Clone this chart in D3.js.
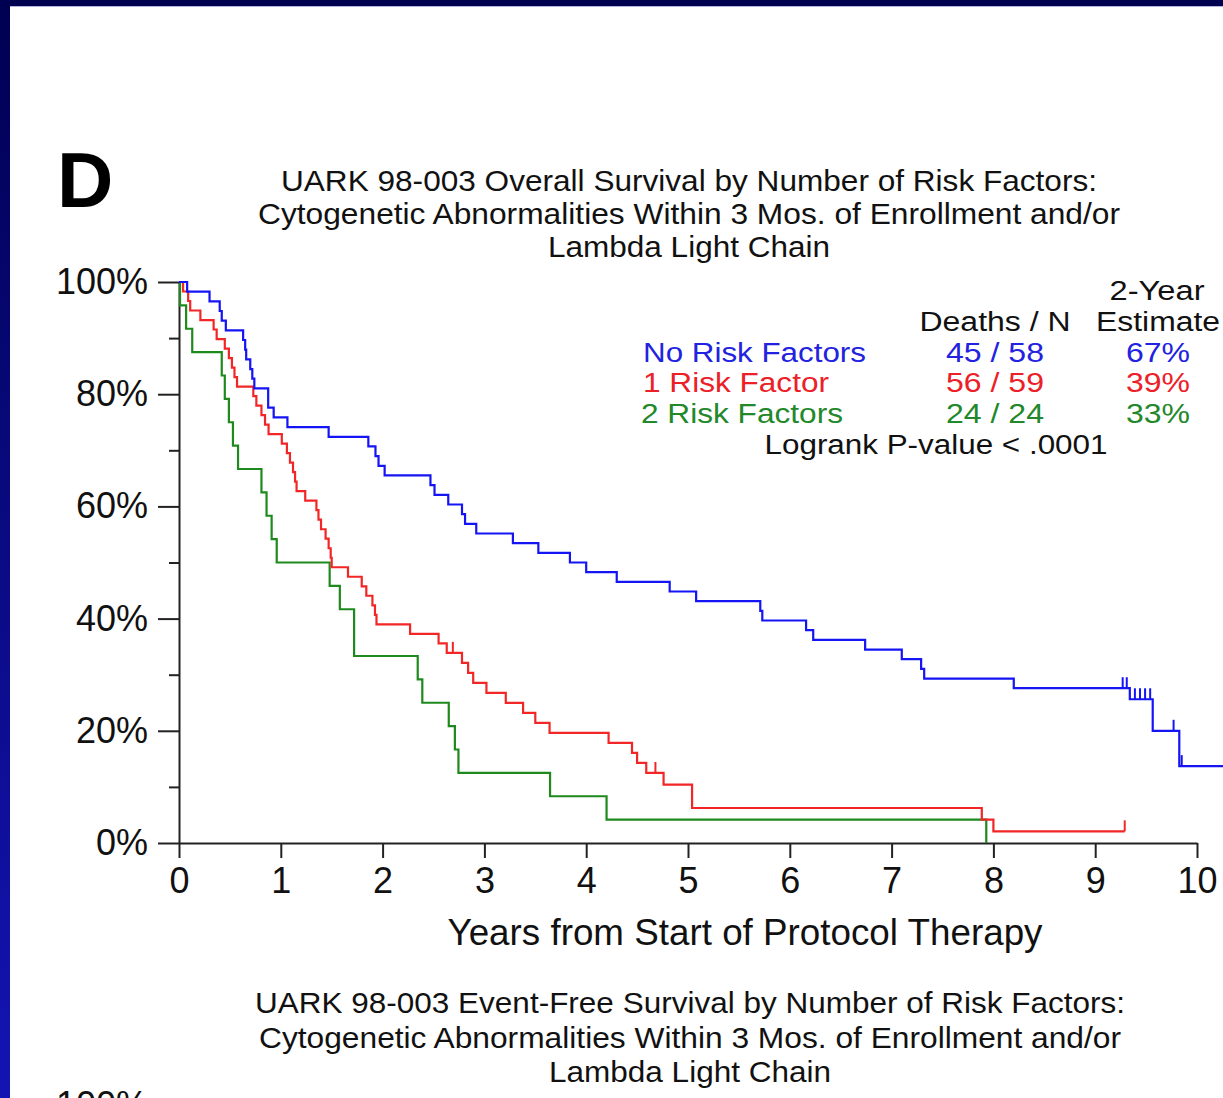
<!DOCTYPE html>
<html>
<head>
<meta charset="utf-8">
<script src="https://cdn.jsdelivr.net/npm/d3@7"></script>
<style>
  html, body { margin: 0; padding: 0; background: #fff; overflow: hidden; }
  svg { display: block; }
  text { font-family: "Liberation Sans", Arial, Helvetica, sans-serif; }
</style>
</head>
<body>
<svg id="chart" width="1223" height="1098"></svg>
<script>
// ---- Axis ticks ----
const yearTicks = [0, 1, 2, 3, 4, 5, 6, 7, 8, 9, 10];
const pctTicks = [0, 0.2, 0.4, 0.6, 0.8, 1];
const minorPctTicks = [0.1, 0.3, 0.5, 0.7, 0.9];

// ---- Groups (legend table) ----
const groupNames = ["No Risk Factors", "1 Risk Factor", "2 Risk Factors"];
const deathsOverN = ["45 / 58", "56 / 59", "24 / 24"];
const twoYearEstimate = [0.67, 0.39, 0.33];
const logrankText = "Logrank P-value < .0001";

// ---- Kaplan-Meier steps: event times (years) and survival after each step ----
const noRiskTime = [0, 0.08, 0.30, 0.40, 0.42, 0.46, 0.63, 0.65, 0.66, 0.70, 0.72, 0.74, 0.876, 0.93, 1.065,
  1.47, 1.86, 1.93, 1.96, 2.02, 2.47, 2.51, 2.645, 2.78, 2.81, 2.92, 3.28, 3.53, 3.84, 4.00, 4.30, 4.82, 5.08,
  5.71, 5.73, 6.16, 6.23, 6.74, 7.10, 7.29, 7.32, 8.20, 9.34, 9.565, 9.826, 10.4];
const noRiskSurv = [1, 0.9828, 0.9655, 0.9483, 0.9310, 0.9138, 0.8966, 0.8793, 0.8621, 0.8448, 0.8276, 0.8103,
  0.7759, 0.7586, 0.7414, 0.7241, 0.7069, 0.6897, 0.6724, 0.6552, 0.6379, 0.6207, 0.6034, 0.5862, 0.5690,
  0.5517, 0.5345, 0.5172, 0.5000, 0.4828, 0.4655, 0.4483, 0.4310, 0.4138, 0.3966, 0.3793, 0.3621, 0.3448,
  0.3276, 0.3103, 0.2931, 0.2759, 0.2562, 0.2000, 0.1370, 0.1370];
const noRiskCensored = [9.27, 9.31, 9.39, 9.44, 9.49, 9.54, 9.77, 9.85];

const oneRiskTime = [0, 0.04, 0.09, 0.11, 0.21, 0.34, 0.37, 0.45, 0.49, 0.52, 0.545, 0.57, 0.73, 0.76, 0.81,
  0.845, 0.88, 1.01, 1.06, 1.09, 1.12, 1.14, 1.155, 1.24, 1.35, 1.37, 1.395, 1.44, 1.47, 1.49, 1.50, 1.66,
  1.795, 1.84, 1.90, 1.925, 1.94, 2.27, 2.55, 2.63, 2.78, 2.84, 2.89, 3.02, 3.21, 3.38, 3.50, 3.64, 4.22,
  4.45, 4.50, 4.59, 4.76, 5.04, 7.886, 8.00, 9.29];
const oneRiskSurv = [1, 0.9831, 0.9661, 0.9492, 0.9322, 0.9153, 0.8983, 0.8814, 0.8644, 0.8475, 0.8305,
  0.8136, 0.7966, 0.7797, 0.7627, 0.7458, 0.7288, 0.7119, 0.6949, 0.6780, 0.6610, 0.6441, 0.6271, 0.6102,
  0.5932, 0.5763, 0.5593, 0.5424, 0.5254, 0.5085, 0.4915, 0.4746, 0.4576, 0.4407, 0.4237, 0.4068, 0.3898,
  0.3729, 0.3559, 0.3390, 0.3212, 0.3033, 0.2855, 0.2676, 0.2498, 0.2319, 0.2141, 0.1963, 0.1784, 0.1606,
  0.1427, 0.1249, 0.1041, 0.0624, 0.0416, 0.0208, 0.0208];
const oneRiskCensored = [2.69, 4.68, 9.29];

const twoRiskTime = [0, 0.01, 0.07, 0.13, 0.42, 0.45, 0.49, 0.53, 0.58, 0.81, 0.86, 0.91, 0.96, 1.48, 1.58,
  1.72, 2.345, 2.39, 2.65, 2.71, 2.745, 3.645, 4.20, 7.93];
const twoRiskSurv = [1, 0.9583, 0.9167, 0.8750, 0.8333, 0.7917, 0.7500, 0.7083, 0.6667, 0.6250, 0.5833,
  0.5417, 0.5000, 0.4583, 0.4167, 0.3333, 0.2917, 0.2500, 0.2083, 0.1667, 0.1250, 0.0833, 0.0417, 0];
const twoRiskCensored = [];

// ---- Titles ----
const panelLetter = "D";
const osTitle = ["UARK 98-003 Overall Survival by Number of Risk Factors:",
  "Cytogenetic Abnormalities Within 3 Mos. of Enrollment and/or",
  "Lambda Light Chain"];
const efsTitle = ["UARK 98-003 Event-Free Survival by Number of Risk Factors:",
  "Cytogenetic Abnormalities Within 3 Mos. of Enrollment and/or",
  "Lambda Light Chain"];
const xTitle = "Years from Start of Protocol Therapy";

// ---- Drawing ----
const W = 1223, H = 1098;
const svg = d3.select("#chart");
const lineColors = ["#1414f5", "#f22626", "#1e8a1e"];
const textColors = ["#2222e0", "#ec2027", "#22882a"];
const ink = "#111";

// slide frame
const defs = svg.append("defs");
const grad = defs.append("linearGradient").attr("id", "edgeGrad")
  .attr("x1", 0).attr("y1", 0).attr("x2", 0).attr("y2", 1);
grad.append("stop").attr("offset", "0%").attr("stop-color", "#000052");
grad.append("stop").attr("offset", "100%").attr("stop-color", "#1414b4");
svg.append("rect").attr("width", W).attr("height", H).attr("fill", "#fff");
svg.append("rect").attr("x", 0).attr("y", 0).attr("width", W).attr("height", 6).attr("fill", "#000050");
svg.append("rect").attr("x", 0).attr("y", 6).attr("width", W).attr("height", 1).attr("fill", "#b4b4dc");
svg.append("rect").attr("x", 0).attr("y", 0).attr("width", 10).attr("height", H).attr("fill", "url(#edgeGrad)");

function fitText(sel, width) {
  return sel.attr("textLength", width).attr("lengthAdjust", "spacingAndGlyphs");
}

// multi-line text block: one <text>, one <tspan> per line
function textBlock(anchor, fontSize, rows) {
  const t = svg.append("text").attr("text-anchor", anchor).attr("font-size", fontSize).attr("fill", ink);
  rows.forEach(r => {
    const s = t.append("tspan").attr("x", r.x).attr("y", r.y).text(r.t);
    if (r.fill) s.attr("fill", r.fill);
    if (r.w) fitText(s, r.w);
  });
  return t;
}

// panel letter
svg.append("text").attr("x", 57).attr("y", 207)
  .attr("font-size", 78).attr("font-weight", "bold").attr("fill", "#000").text(panelLetter);

// title lines
const titleFont = 29.5;
const titleLayout = [{ y: 190.5, w: 816 }, { y: 223.5, w: 862 }, { y: 256.5, w: 282 }];
textBlock("middle", titleFont, osTitle.map((t, i) => ({ t, x: 689, y: titleLayout[i].y, w: titleLayout[i].w })));

// scales
const x = d3.scaleLinear().domain([0, 10]).range([179, 1197]);
const y = d3.scaleLinear().domain([0, 1]).range([843, 282]);

// y axis: major ticks with labels, minor ticks without
const yAxisG = svg.append("g").attr("transform", "translate(179,0)")
  .call(d3.axisLeft(y).tickValues(pctTicks).tickSize(21).tickSizeOuter(0).tickPadding(10)
    .tickFormat(d3.format(".0%")));
const yMinorG = svg.append("g").attr("transform", "translate(179,0)")
  .call(d3.axisLeft(y).tickValues(minorPctTicks).tickSize(10).tickFormat(""));
yMinorG.select(".domain").remove();

// x axis
const xAxisG = svg.append("g").attr("transform", "translate(0,843)")
  .call(d3.axisBottom(x).tickValues(yearTicks).tickSize(15).tickSizeOuter(0).tickPadding(9)
    .tickFormat(d3.format("d")));

[yAxisG, yMinorG, xAxisG].forEach(g => {
  g.selectAll(".domain, .tick line").attr("stroke", "#222").attr("stroke-width", 2);
  g.selectAll("text").attr("font-size", 36).attr("fill", ink).attr("font-family", null);
});

// x axis title
fitText(svg.append("text").attr("x", 745).attr("y", 945).attr("text-anchor", "middle")
  .attr("font-size", 36).attr("fill", ink).text(xTitle), 595);

// survival curves
const stepLine = d3.line().x(d => x(d[0])).y(d => y(d[1])).curve(d3.curveStepAfter);
const curves = [
  { time: noRiskTime, surv: noRiskSurv, cens: noRiskCensored },
  { time: oneRiskTime, surv: oneRiskSurv, cens: oneRiskCensored },
  { time: twoRiskTime, surv: twoRiskSurv, cens: twoRiskCensored }
];
const plotClip = defs.append("clipPath").attr("id", "plotClip");
plotClip.append("rect").attr("x", 170).attr("y", 270).attr("width", W - 170).attr("height", 590);

// draw green first, blue last so blue sits on top
[2, 1, 0].forEach(i => {
  const c = curves[i];
  const pts = c.time.map((t, j) => [t, c.surv[j]]);
  const g = svg.append("g").attr("clip-path", "url(#plotClip)");
  g.append("path").attr("d", stepLine(pts)).attr("fill", "none")
    .attr("stroke", lineColors[i]).attr("stroke-width", 2.2).attr("stroke-linejoin", "miter");
  const survAt = t => {
    const k = d3.bisectRight(c.time, t) - 1;
    return c.surv[Math.max(0, k)];
  };
  g.selectAll("line.cens").data(c.cens).join("line").attr("class", "cens")
    .attr("x1", d => x(d)).attr("x2", d => x(d))
    .attr("y1", d => y(survAt(d))).attr("y2", d => y(survAt(d)) - 11)
    .attr("stroke", lineColors[i]).attr("stroke-width", 2);
});

// legend table, one text block per column
const legendFont = 27;
const rowY = [361.5, 392, 422.5];
const nameW = [223, 186, 202];
textBlock("start", legendFont, groupNames.map((name, i) => ({
  t: name, x: i === 2 ? 641 : 643, y: rowY[i], w: nameW[i], fill: textColors[i]
})));
textBlock("middle", legendFont, [{ t: "Deaths / N", x: 995, y: 331, w: 151 }].concat(
  deathsOverN.map((d, i) => ({ t: d, x: 995, y: rowY[i], w: 98, fill: textColors[i] }))));
textBlock("middle", legendFont, [
  { t: "2-Year", x: 1157, y: 300, w: 95 },
  { t: "Estimate", x: 1158, y: 331, w: 124 }
].concat(twoYearEstimate.map((v, i) => ({
  t: d3.format(".0%")(v), x: 1158, y: rowY[i], w: 64, fill: textColors[i]
}))));
fitText(svg.append("text").attr("x", 936).attr("y", 453.5).attr("text-anchor", "middle")
  .attr("font-size", legendFont).attr("fill", ink).text(logrankText), 343);

// next panel (event-free survival) begins below
const efsLayout = [{ y: 1013, w: 870 }, { y: 1048, w: 862 }, { y: 1082, w: 282 }];
textBlock("middle", titleFont, efsTitle.map((t, i) => ({ t, x: 690, y: efsLayout[i].y, w: efsLayout[i].w })));
const y2 = d3.scaleLinear().domain([0, 1]).range([1666, 1105]);
const y2AxisG = svg.append("g").attr("transform", "translate(179,0)")
  .call(d3.axisLeft(y2).tickValues([1]).tickSize(21).tickSizeOuter(0).tickPadding(10)
    .tickFormat(d3.format(".0%")));
y2AxisG.selectAll(".domain, .tick line").attr("stroke", "#222").attr("stroke-width", 2);
y2AxisG.selectAll("text").attr("font-size", 36).attr("fill", ink).attr("font-family", null);
</script>
</body>
</html>
